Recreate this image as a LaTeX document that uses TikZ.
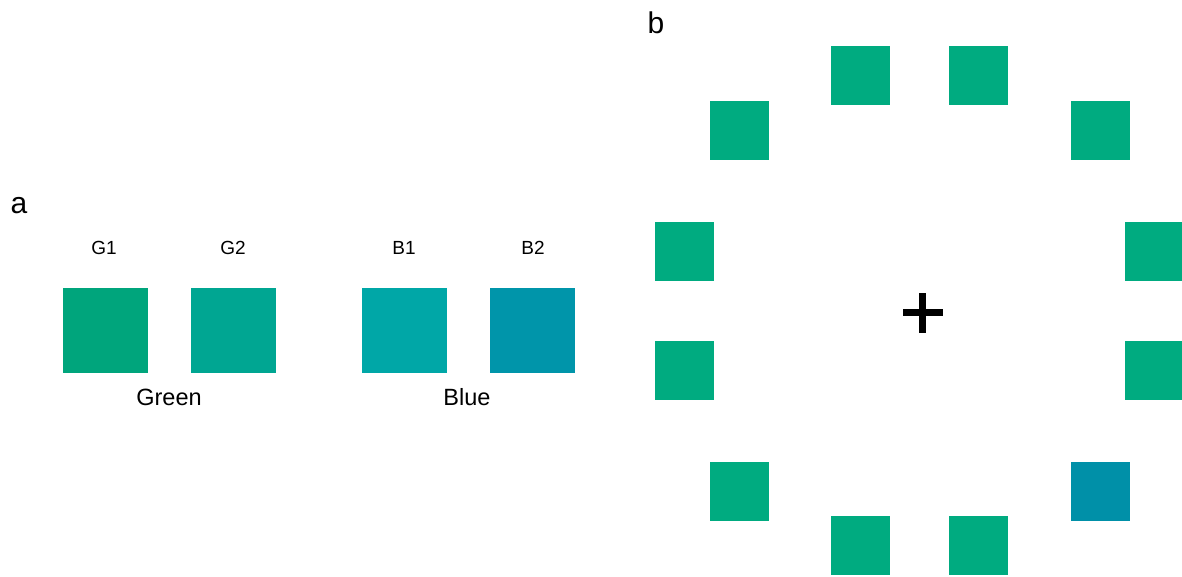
\documentclass[tikz,border=0pt]{standalone}
\usepackage{fontspec}
\setmainfont{Liberation Sans}
\definecolor{gA}{RGB}{0,165,124}
\definecolor{gB}{RGB}{0,166,146}
\definecolor{bA}{RGB}{0,167,167}
\definecolor{bB}{RGB}{0,149,170}
\definecolor{tgt}{RGB}{0,171,128}
\definecolor{odd}{RGB}{0,144,168}
\begin{document}
\begin{tikzpicture}[x=1pt,y=-1pt,
  patch/.style={rectangle,inner sep=0pt,minimum size=85pt,draw=none},
  disc/.style={rectangle,inner sep=0pt,minimum size=59pt,draw=none,fill=tgt},
  panel/.style={font=\fontsize{30}{30}\selectfont,inner sep=0pt},
  tag/.style={font=\fontsize{19}{19}\selectfont,inner sep=0pt},
  group/.style={font=\fontsize{23.5}{23.5}\selectfont,inner sep=0pt}]
\useasboundingbox (0,0) rectangle (1182,577);
% panel a: colour samples
\node[panel] (la) at (19,206) {a};
\node[patch,fill=gA] (g1) at (105,330.5) {};
\node[patch,fill=gB] (g2) at (233,330.5) {};
\node[patch,fill=bA] (b1) at (404,330.5) {};
\node[patch,fill=bB] (b2) at (532.5,330.5) {};
\node[tag] (tg1) at (104,248) {G1};
\node[tag] (tg2) at (233,248) {G2};
\node[tag] (tb1) at (404,248) {B1};
\node[tag] (tb2) at (533,248) {B2};
\node[group] (lgreen) at (169,397) {Green};
\node[group] (lblue) at (467,397) {Blue};
% panel b: ring of twelve patches around a fixation cross
\node[panel] (lb) at (656,23) {b};
\node[disc] (s1) at (860.5,75.5) {};
\node[disc] (s2) at (978.5,75.5) {};
\node[disc] (s3) at (739.5,130.5) {};
\node[disc] (s4) at (1100.5,130.5) {};
\node[disc] (s5) at (684.5,251.5) {};
\node[disc] (s6) at (1154.5,251.5) {};
\node[disc] (s7) at (684.5,370.5) {};
\node[disc] (s8) at (1154.5,370.5) {};
\node[disc] (s9) at (739.5,491.5) {};
\node[disc,fill=odd] (s10) at (1100.5,491.5) {};
\node[disc] (s11) at (860.5,545.5) {};
\node[disc] (s12) at (978.5,545.5) {};
\coordinate (fix) at (922.5,312.5);
\fill[black] ([xshift=-20pt,yshift=-3.5pt]fix) rectangle ([xshift=20pt,yshift=3.5pt]fix);
\fill[black] ([xshift=-3.5pt,yshift=-20pt]fix) rectangle ([xshift=3.5pt,yshift=20pt]fix);
\end{tikzpicture}
\end{document}
